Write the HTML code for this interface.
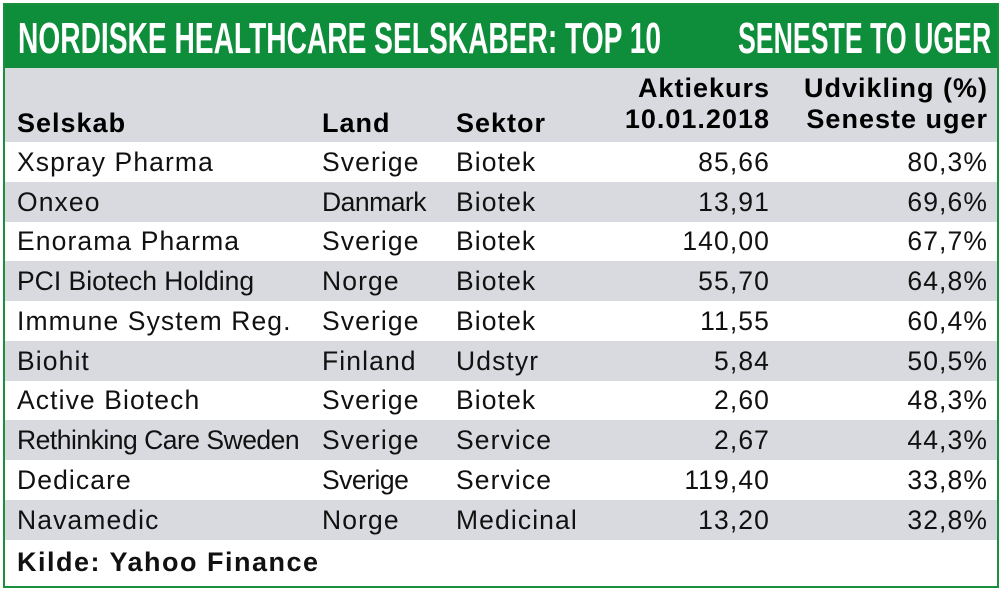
<!DOCTYPE html>
<html><head><meta charset="utf-8"><style>
body{margin:0;background:#fff;width:1000px;height:591px;overflow:hidden;font-family:"Liberation Sans",sans-serif;}
#box{position:absolute;left:3px;top:3px;width:992px;height:581px;border:2px solid #1a8f3e;}
#title{position:absolute;left:0;top:0;width:992px;height:63px;background:#0e8e3a;color:#fff;font-family:"Liberation Sans",sans-serif;font-weight:bold;font-size:44px;line-height:68px;}
#title .l{position:absolute;left:13px;transform:scaleX(0.64);transform-origin:left;white-space:nowrap}
#title .r{position:absolute;right:6px;transform:scaleX(0.607);transform-origin:right;white-space:nowrap}
#hdr{position:absolute;left:0;top:63px;width:992px;height:74px;background:#d9dadf;}
.row{position:absolute;left:0;width:992px;height:40px;font-size:26.5px;letter-spacing:1.1px;line-height:40px;color:#111;}
.g{background:#d9dadf;}
.c{position:absolute;white-space:nowrap}
.c1{left:12px}.c2{left:317px}.c3{left:451px}.c4{right:227px;text-align:right}.c5{right:9px;text-align:right}
.h{font-weight:bold;line-height:31px;font-size:27px;letter-spacing:1px}
</style></head><body>
<div id="box">
<div id="title"><span class="l">NORDISKE HEALTHCARE SELSKABER: TOP 10</span><span class="r">SENESTE TO UGER</span></div>
<div id="hdr">
<div class="c c1 h" style="top:40px">Selskab</div>
<div class="c c2 h" style="top:40px">Land</div>
<div class="c c3 h" style="top:40px">Sektor</div>
<div class="c c4 h" style="top:5px">Aktiekurs<br>10.01.2018</div>
<div class="c c5 h" style="top:5px">Udvikling (%)<br>Seneste uger</div>
</div>
<div class="row" style="top:137px"><span class="c c1">Xspray Pharma</span><span class="c c2">Sverige</span><span class="c c3">Biotek</span><span class="c c4">85,66</span><span class="c c5">80,3%</span></div>
<div class="row g" style="top:177px"><span class="c c1">Onxeo</span><span class="c c2" style="letter-spacing:-0.5px">Danmark</span><span class="c c3">Biotek</span><span class="c c4">13,91</span><span class="c c5">69,6%</span></div>
<div class="row" style="top:216px"><span class="c c1">Enorama Pharma</span><span class="c c2">Sverige</span><span class="c c3">Biotek</span><span class="c c4">140,00</span><span class="c c5">67,7%</span></div>
<div class="row g" style="top:256px"><span class="c c1" style="letter-spacing:0px">PCI Biotech Holding</span><span class="c c2">Norge</span><span class="c c3">Biotek</span><span class="c c4">55,70</span><span class="c c5">64,8%</span></div>
<div class="row" style="top:296px"><span class="c c1">Immune System Reg.</span><span class="c c2">Sverige</span><span class="c c3">Biotek</span><span class="c c4">11,55</span><span class="c c5">60,4%</span></div>
<div class="row g" style="top:336px"><span class="c c1">Biohit</span><span class="c c2">Finland</span><span class="c c3">Udstyr</span><span class="c c4">5,84</span><span class="c c5">50,5%</span></div>
<div class="row" style="top:375px"><span class="c c1">Active Biotech</span><span class="c c2">Sverige</span><span class="c c3">Biotek</span><span class="c c4">2,60</span><span class="c c5">48,3%</span></div>
<div class="row g" style="top:415px"><span class="c c1" style="letter-spacing:-0.5px">Rethinking Care Sweden</span><span class="c c2">Sverige</span><span class="c c3">Service</span><span class="c c4">2,67</span><span class="c c5">44,3%</span></div>
<div class="row" style="top:455px"><span class="c c1">Dedicare</span><span class="c c2" style="letter-spacing:-0.5px">Sverige</span><span class="c c3">Service</span><span class="c c4">119,40</span><span class="c c5">33,8%</span></div>
<div class="row g" style="top:495px"><span class="c c1">Navamedic</span><span class="c c2">Norge</span><span class="c c3">Medicinal</span><span class="c c4">13,20</span><span class="c c5">32,8%</span></div>
<div class="row" style="top:537px"><span class="c c1" style="font-weight:bold;font-size:27px;letter-spacing:1.5px">Kilde: Yahoo Finance</span></div>
</div>
</body></html>
